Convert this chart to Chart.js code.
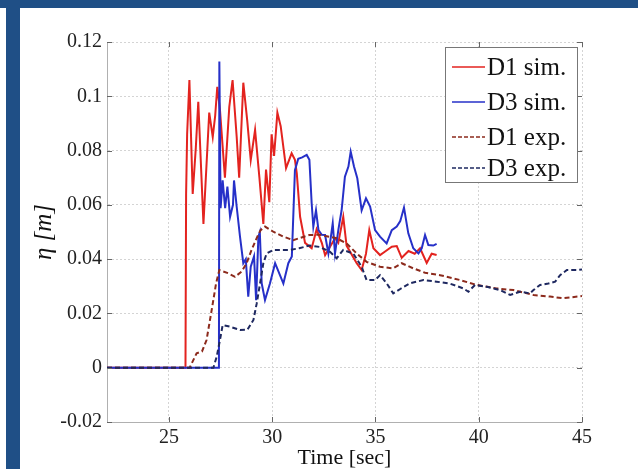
<!DOCTYPE html>
<html>
<head>
<meta charset="utf-8">
<title>Wave elevation D1 / D3</title>
<script src="https://cdn.jsdelivr.net/npm/chart.js@4/dist/chart.umd.min.js"></script>
<style>
  html, body { margin: 0; padding: 0; background: #fff; overflow: hidden; }
  #wrap { position: relative; width: 638px; height: 469px; }
  #chart { position: absolute; left: 0; top: 0; }
  .bar { position: absolute; background: #1f4f86; }
</style>
</head>
<body>
<div id="wrap">
  <canvas id="chart" width="638" height="469"></canvas>
  <div class="bar" style="left:0;top:0;width:638px;height:8px"></div>
  <div class="bar" style="left:6px;top:8px;width:14px;height:461px"></div>
</div>
<script>
// values: time [sec] and eta [m]
const d1SimTime = [22, 25.8, 25.83, 25.88, 25.99, 26.15, 26.3, 26.42, 26.67, 26.95, 27.12, 27.24, 27.34, 27.47, 27.71, 27.92, 28.08, 28.28, 28.4, 28.6, 28.79, 28.96, 29.17, 29.38, 29.57, 29.7, 29.86, 29.97, 30.09, 30.25, 30.41, 30.67, 30.94, 31.1, 31.19, 31.35, 31.59, 31.91, 32.15, 32.4, 32.56, 32.8, 33.04, 33.2, 33.44, 33.6, 34.09, 34.33, 34.54, 34.7, 34.9, 35.22, 35.5, 35.79, 36.03, 36.27, 36.6, 36.9, 37.16, 37.48, 37.72, 37.96];
const d1SimEta  = [0, 0, 0.064, 0.086, 0.106, 0.064, 0.081, 0.098, 0.053, 0.094, 0.085, 0.093, 0.1035, 0.095, 0.070, 0.096, 0.106, 0.085, 0.070, 0.105, 0.091, 0.0765, 0.0876, 0.070, 0.053, 0.073, 0.061, 0.086, 0.078, 0.094, 0.089, 0.0735, 0.079, 0.0766, 0.0716, 0.0556, 0.046, 0.044, 0.051, 0.046, 0.0415, 0.0446, 0.0477, 0.046, 0.0556, 0.045, 0.0385, 0.036, 0.042, 0.0507, 0.044, 0.0415, 0.043, 0.0446, 0.0448, 0.0405, 0.043, 0.042, 0.044, 0.0386, 0.042, 0.0415];

const d3SimTime = [22, 27.42, 27.44, 27.5, 27.6, 27.72, 27.83, 27.96, 28.1, 28.15, 28.28, 28.44, 28.6, 28.72, 28.84, 28.96, 29.12, 29.22, 29.33, 29.4, 29.49, 29.65, 29.89, 30.14, 30.38, 30.54, 30.78, 30.95, 31.1, 31.26, 31.45, 31.67, 31.8, 31.91, 31.99, 32.12, 32.24, 32.4, 32.56, 32.72, 32.8, 32.93, 33.04, 33.2, 33.36, 33.52, 33.69, 33.8, 33.96, 34.12, 34.33, 34.54, 34.74, 34.98, 35.22, 35.54, 35.79, 36.03, 36.2, 36.38, 36.59, 36.83, 37.08, 37.24, 37.4, 37.56, 37.8, 37.96];
const d3SimEta  = [0, 0, 0.1128, 0.0588, 0.069, 0.0588, 0.0667, 0.0556, 0.060, 0.069, 0.0593, 0.0483, 0.0385, 0.040, 0.0262, 0.0372, 0.041, 0.0249, 0.0483, 0.050, 0.0311, 0.0249, 0.031, 0.0385, 0.034, 0.031, 0.0385, 0.041, 0.0728, 0.077, 0.0775, 0.0784, 0.0766, 0.0606, 0.052, 0.058, 0.0507, 0.049, 0.0489, 0.0421, 0.046, 0.0532, 0.042, 0.0507, 0.058, 0.0704, 0.0741, 0.0796, 0.0741, 0.0698, 0.058, 0.0624, 0.0594, 0.0507, 0.0483, 0.0458, 0.0507, 0.052, 0.054, 0.059, 0.0495, 0.044, 0.0421, 0.044, 0.0489, 0.0452, 0.045, 0.0456];

const d1ExpTime = [22, 26.0, 26.34, 26.6, 26.82, 27.07, 27.28, 27.44, 27.87, 28.2, 28.52, 28.76, 29.0, 29.28, 29.44, 29.65, 30.05, 30.54, 31.02, 31.8, 32.3, 33.12, 33.6, 34.09, 34.57, 35.22, 35.86, 36.27, 36.83, 37.4, 38.13, 39.1, 39.9, 40.87, 41.68, 42.65, 43.45, 44.1, 45];
const d1ExpEta  = [0, 0, 0.0053, 0.006, 0.0102, 0.0213, 0.031, 0.036, 0.0348, 0.0335, 0.0354, 0.0385, 0.0434, 0.0483, 0.0507, 0.052, 0.0501, 0.0483, 0.047, 0.0489, 0.049, 0.0477, 0.0458, 0.0421, 0.039, 0.0372, 0.0366, 0.0385, 0.0366, 0.035, 0.0341, 0.0323, 0.0305, 0.0292, 0.0286, 0.0268, 0.0262, 0.0256, 0.0264];

const d3ExpTime = [22, 27.15, 27.31, 27.47, 27.6, 27.96, 28.44, 28.8, 29.09, 29.25, 29.41, 29.57, 29.73, 30.05, 30.86, 31.3, 31.8, 32.3, 32.8, 33.12, 33.44, 33.93, 34.33, 34.57, 34.98, 35.22, 35.54, 35.86, 36.2, 36.67, 37.32, 37.96, 38.6, 39.26, 39.5, 39.82, 40.39, 41.03, 41.52, 42.0, 42.48, 42.65, 42.97, 43.37, 43.7, 43.94, 44.27, 44.75, 45];
const d3ExpEta  = [0, 0, 0.004, 0.0102, 0.0157, 0.0151, 0.0139, 0.014, 0.0176, 0.0237, 0.031, 0.0385, 0.0421, 0.0434, 0.0434, 0.044, 0.045, 0.0445, 0.0427, 0.0403, 0.0434, 0.042, 0.0372, 0.0323, 0.0323, 0.0341, 0.0311, 0.0274, 0.029, 0.0311, 0.0323, 0.0317, 0.031, 0.0292, 0.028, 0.0305, 0.0298, 0.0286, 0.0268, 0.028, 0.0274, 0.0286, 0.0305, 0.031, 0.0317, 0.0341, 0.036, 0.036, 0.0362];

const seriesNames = ['D1 sim.', 'D3 sim.', 'D1 exp.', 'D3 exp.'];
const xTicks = [25, 30, 35, 40, 45];
const yTicks = [0.12, 0.1, 0.08, 0.06, 0.04, 0.02, 0, -0.02];
const yTickLabels = ['0.12', '0.1', '0.08', '0.06', '0.04', '0.02', '0', '-0.02'];

const pts = (t, v) => t.map((x, i) => ({ x: x, y: v[i] }));
const serif = 'Liberation Serif, Times New Roman, serif';

function line(label, data, color, dashed, order) {
  return {
    label: label,
    data: data,
    borderColor: color,
    borderWidth: 2,
    borderDash: dashed ? [5, 3] : [],
    pointRadius: 0,
    tension: 0,
    fill: false,
    order: order
  };
}

// MATLAB style legend box + inward ticks
const extras = {
  id: 'extras',
  afterDatasetsDraw(chart) {
    const ctx = chart.ctx;
    const a = chart.chartArea;
    const xs = chart.scales.x, ys = chart.scales.y;
    ctx.save();
    ctx.strokeStyle = '#666';
    ctx.lineWidth = 1;
    ctx.beginPath();
    xTicks.forEach(v => {
      const px = Math.round(xs.getPixelForValue(v)) + 0.5;
      ctx.moveTo(px, a.bottom); ctx.lineTo(px, a.bottom - 5);
      ctx.moveTo(px, a.top); ctx.lineTo(px, a.top + 5);
    });
    yTicks.forEach(v => {
      const py = Math.round(ys.getPixelForValue(v)) + 0.5;
      ctx.moveTo(a.left, py); ctx.lineTo(a.left + 5, py);
      ctx.moveTo(a.right, py); ctx.lineTo(a.right - 5, py);
    });
    ctx.stroke();

    // legend
    const bx = 445, by = 47, bw = 132, bh = 135;
    ctx.fillStyle = '#fff';
    ctx.fillRect(bx, by, bw, bh);
    ctx.strokeStyle = '#777';
    ctx.strokeRect(bx + 0.5, by + 0.5, bw, bh);
    const rowY = [67, 102, 137, 168];
    ctx.font = '25px ' + serif;
    ctx.textBaseline = 'middle';
    chart.data.datasets.forEach((ds, i) => {
      ctx.strokeStyle = ds.borderColor;
      ctx.lineWidth = 1.6;
      ctx.setLineDash(ds.borderDash.length ? [4, 2] : []);
      ctx.beginPath();
      ctx.moveTo(452, rowY[i]); ctx.lineTo(485, rowY[i]);
      ctx.stroke();
      ctx.setLineDash([]);
      ctx.fillStyle = '#111';
      ctx.fillText(ds.label, 487, rowY[i] + 1);
    });
    ctx.restore();
  }
};

new Chart(document.getElementById('chart'), {
  type: 'line',
  data: {
    datasets: [
      line(seriesNames[0], pts(d1SimTime, d1SimEta), '#e3231f', false, 4),
      line(seriesNames[1], pts(d3SimTime, d3SimEta), '#2630c8', false, 3),
      line(seriesNames[2], pts(d1ExpTime, d1ExpEta), '#8c2a1c', true, 2),
      line(seriesNames[3], pts(d3ExpTime, d3ExpEta), '#1e2860', true, 1)
    ]
  },
  options: {
    responsive: false,
    animation: false,
    devicePixelRatio: 1,
    layout: { padding: { left: 0, top: 42, right: 56, bottom: 0 } },
    plugins: { legend: { display: false }, tooltip: { enabled: false } },
    scales: {
      x: {
        type: 'linear',
        min: 22,
        max: 45,
        afterBuildTicks: s => { s.ticks = xTicks.map(v => ({ value: v })); },
        afterFit: s => { s.height = 47; },
        grid: { color: '#d4d4d4', drawTicks: false, lineWidth: 1 },
        border: { display: true, color: '#b0b0b0', dash: [2, 2] },
        ticks: { color: '#222', padding: 4, maxRotation: 0, font: { family: serif, size: 20 } },
        title: {
          display: true,
          text: 'Time [sec]',
          color: '#111',
          padding: { top: 0, bottom: 0 },
          font: { family: serif, size: 22, lineHeight: 1 }
        }
      },
      y: {
        type: 'linear',
        min: -0.02,
        max: 0.12,
        afterBuildTicks: s => { s.ticks = yTicks.map(v => ({ value: v })); },
        afterFit: s => { s.width = 107; },
        grid: { color: '#d4d4d4', drawTicks: false, lineWidth: 1 },
        border: { display: true, color: '#b0b0b0', dash: [2, 2] },
        ticks: {
          color: '#222',
          padding: 5,
          font: { family: serif, size: 20 },
          callback: (v, i) => yTickLabels[i]
        },
        title: {
          display: true,
          text: 'η [m]',
          color: '#111',
          padding: { top: 32, bottom: 0 },
          font: { family: serif, size: 25, style: 'italic', lineHeight: 1 }
        }
      }
    }
  },
  plugins: [extras]
});
</script>
</body>
</html>
